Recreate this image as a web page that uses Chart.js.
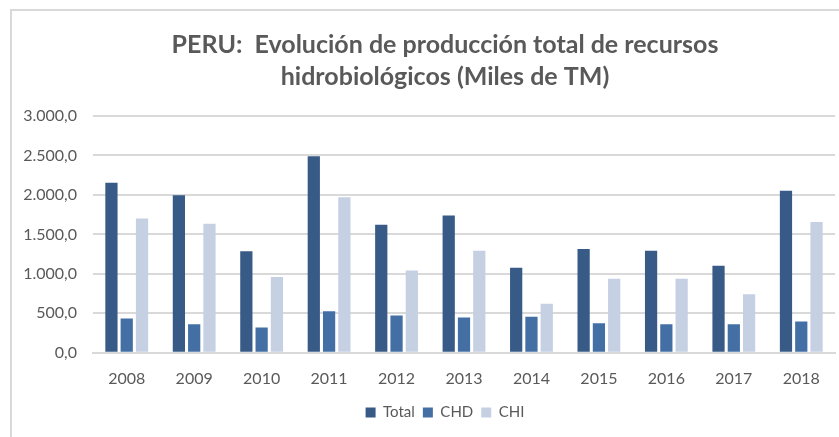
<!DOCTYPE html>
<html>
<head>
<meta charset="utf-8">
<script src="https://cdn.jsdelivr.net/npm/chart.js@4"></script>
<style>
    html, body { margin: 0; padding: 0; background: #fff; overflow: hidden; }
    #box {
        position: absolute;
        left: 10px;
        top: 9px;
        width: 866px;
        height: 428px;
        border-left: 2px solid #d9d9d9;
        border-top: 2px solid #d9d9d9;
    }
</style>
</head>
<body>
<div id="box"><canvas id="prodChart"></canvas></div>
<script>
const years = ["2008", "2009", "2010", "2011", "2012", "2013", "2014", "2015", "2016", "2017", "2018"];
const totalValues = [2154, 1997, 1285, 2490, 1623, 1741, 1078, 1314, 1293, 1104, 2053];
const chdValues = [433, 361, 319, 525, 471, 446, 458, 373, 361, 361, 395];
const chiValues = [1703, 1635, 960, 1972, 1044, 1293, 622, 939, 939, 741, 1656];
const yTicks = [0, 500, 1000, 1500, 2000, 2500, 3000];

const fmt = (v) => {
    const n = Math.round(v).toString().replace(/\B(?=(\d{3})+(?!\d))/g, ".");
    return n + ",0";
};

const grey = "#595959";
const fontFamily = "Lato, 'Open Sans', sans-serif";

const initProdChart = () => {
    const chart = new Chart(document.getElementById("prodChart"), {
        type: "bar",
        data: {
            labels: years,
            datasets: [
                { label: "Total", data: totalValues, backgroundColor: "#375a87" },
                { label: "CHD", data: chdValues, backgroundColor: "#436fa4" },
                { label: "CHI", data: chiValues, backgroundColor: "#c5d0e3" },
            ],
        },
        options: {
            responsive: true,
            maintainAspectRatio: false,
            animation: false,
            layout: { padding: { bottom: 9 } },
            datasets: {
                bar: {
                    categoryPercentage: 0.68,
                    barPercentage: 0.8,
                },
            },
            plugins: {
                title: {
                    display: true,
                    text: [
                        "PERU:  Evolución de producción total de recursos",
                        "hidrobiológicos (Miles de TM)",
                    ],
                    color: grey,
                    font: { family: fontFamily, size: 25, weight: "bold", lineHeight: 1.28 },
                    padding: { top: 18, bottom: 23 },
                },
                legend: {
                    position: "bottom",
                    labels: {
                        color: grey,
                        boxWidth: 10,
                        boxHeight: 10,
                        padding: 8,
                        font: { family: fontFamily, size: 15 },
                    },
                },
                tooltip: { enabled: false },
            },
            scales: {
                x: {
                    grid: { display: false, drawTicks: false },
                    border: { color: "#d9d9d9", width: 2 },
                    afterFit: (axis) => {
                        axis.height -= 7;
                    },
                    ticks: {
                        color: grey,
                        padding: 16,
                        font: { family: fontFamily, size: 16 },
                    },
                },
                y: {
                    min: 0,
                    max: 3000,
                    afterBuildTicks: (axis) => {
                        axis.ticks = yTicks.map((v) => ({ value: v }));
                    },
                    afterFit: (axis) => {
                        axis.width = 81;
                    },
                    grid: { color: "#d9d9d9", lineWidth: 2, drawTicks: false },
                    border: { display: false },
                    ticks: {
                        color: grey,
                        padding: 16,
                        font: { family: fontFamily, size: 16 },
                        callback: (v) => fmt(v),
                    },
                },
                yRight: {
                    position: "right",
                    min: 0,
                    max: 3000,
                    afterFit: (axis) => {
                        axis.width = 43;
                    },
                    grid: { display: false, drawTicks: false },
                    border: { display: false },
                    ticks: { display: false },
                },
            },
        },
    });
    return { chart: chart };
};

window.chartProd = initProdChart();
</script>
</body>
</html>
